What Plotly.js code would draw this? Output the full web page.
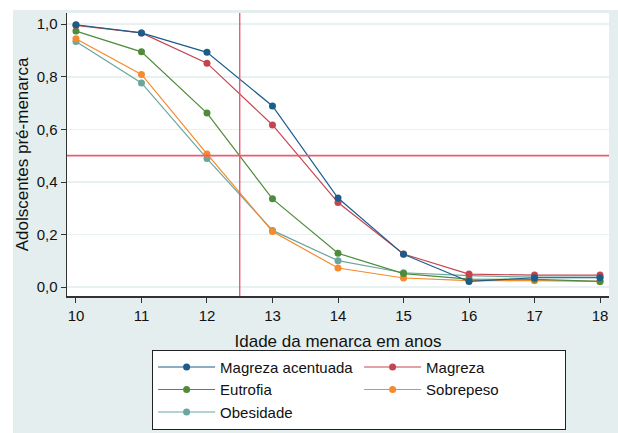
<!DOCTYPE html>
<html>
<head>
<meta charset="utf-8">
<script src="https://cdn.plot.ly/plotly-3.0.1.min.js"></script>
<style>
html,body{margin:0;padding:0;background:#ffffff;}
#chart{position:absolute;left:13px;top:10px;width:605px;height:423px;}
</style>
</head>
<body>
<div id="chart"></div>
<script>
const ages = [10, 11, 12, 13, 14, 15, 16, 17, 18];
const seriesNames = ["Magreza acentuada", "Magreza", "Eutrofia", "Sobrepeso", "Obesidade"];
const magrezaAcentuada = [0.998, 0.967, 0.893, 0.689, 0.339, 0.125, 0.022, 0.036, 0.036];
const magreza = [0.996, 0.967, 0.852, 0.617, 0.322, 0.126, 0.050, 0.046, 0.046];
const eutrofia = [0.974, 0.895, 0.662, 0.336, 0.129, 0.052, 0.031, 0.030, 0.022];
const sobrepeso = [0.945, 0.809, 0.507, 0.212, 0.073, 0.035, 0.025, 0.025, 0.022];
const obesidade = [0.934, 0.777, 0.489, 0.216, 0.101, 0.055, 0.044, 0.038, 0.038];
const yTicks = [0, 0.2, 0.4, 0.6, 0.8, 1.0];
const xTicks = [10, 11, 12, 13, 14, 15, 16, 17, 18];
const refAge = 12.5;
const refProb = 0.5;

const colors = ["#1b5c8a", "#c5454f", "#4e8b3a", "#f68a2c", "#6aa6a0"];
const values = [magrezaAcentuada, magreza, eutrofia, sobrepeso, obesidade];
const order = [4, 3, 2, 1, 0];
const legendRank = {0: 1, 1: 2, 2: 3, 3: 4, 4: 5};

const traces = order.map(i => ({
  x: ages,
  y: values[i],
  name: seriesNames[i],
  type: "scatter",
  mode: "lines+markers",
  line: {color: colors[i], width: 1.2},
  marker: {color: colors[i], size: 7, symbol: "circle"},
  legendrank: legendRank[i]
}));

const font = "Liberation Sans, Arial, Helvetica, sans-serif";

const layout = {
  width: 605,
  height: 423,
  paper_bgcolor: "#e4eeee",
  plot_bgcolor: "#ffffff",
  separators: ",.",
  margin: {l: 54, r: 9, t: 3, b: 130},
  font: {family: font, color: "#111111", size: 15},
  showlegend: true,
  legend: {
    orientation: "h",
    x: 0.157, xanchor: "left",
    y: -0.19, yanchor: "top",
    bgcolor: "#ffffff",
    bordercolor: "#222222",
    borderwidth: 1,
    font: {family: font, size: 15, color: "#111111"},
    itemwidth: 57,
    entrywidth: 134,
    traceorder: "normal",
    tracegroupgap: 0
  },
  xaxis: {
    range: [9.863, 18.137],
    tickvals: xTicks,
    ticktext: xTicks.map(String),
    ticks: "outside",
    ticklen: 5,
    tickcolor: "#333333",
    showline: true,
    linecolor: "#333333",
    linewidth: 1.5,
    showgrid: false,
    zeroline: false,
    tickfont: {size: 15},
    title: {text: "Idade da menarca em anos", font: {size: 17}, standoff: 12}
  },
  yaxis: {
    range: [-0.0334, 1.0427],
    tickvals: yTicks,
    tickformat: ".1f",
    ticks: "outside",
    ticklen: 5,
    tickcolor: "#333333",
    showline: true,
    linecolor: "#333333",
    linewidth: 1.5,
    showgrid: true,
    gridcolor: "#e8f1f2",
    gridwidth: 1.5,
    zeroline: false,
    tickfont: {size: 15},
    title: {text: "Adolscentes pré-menarca", font: {size: 17}, standoff: 8}
  },
  shapes: [
    {type: "line", xref: "x", yref: "paper", x0: refAge, x1: refAge, y0: 0, y1: 1,
     line: {color: "#e8506a", width: 1.3}},
    {type: "line", xref: "paper", yref: "y", x0: 0, x1: 1, y0: refProb, y1: refProb,
     line: {color: "#ee5a6e", width: 1.8}}
  ]
};

Plotly.newPlot("chart", traces, layout, {displayModeBar: false, staticPlot: true});
</script>
</body>
</html>
